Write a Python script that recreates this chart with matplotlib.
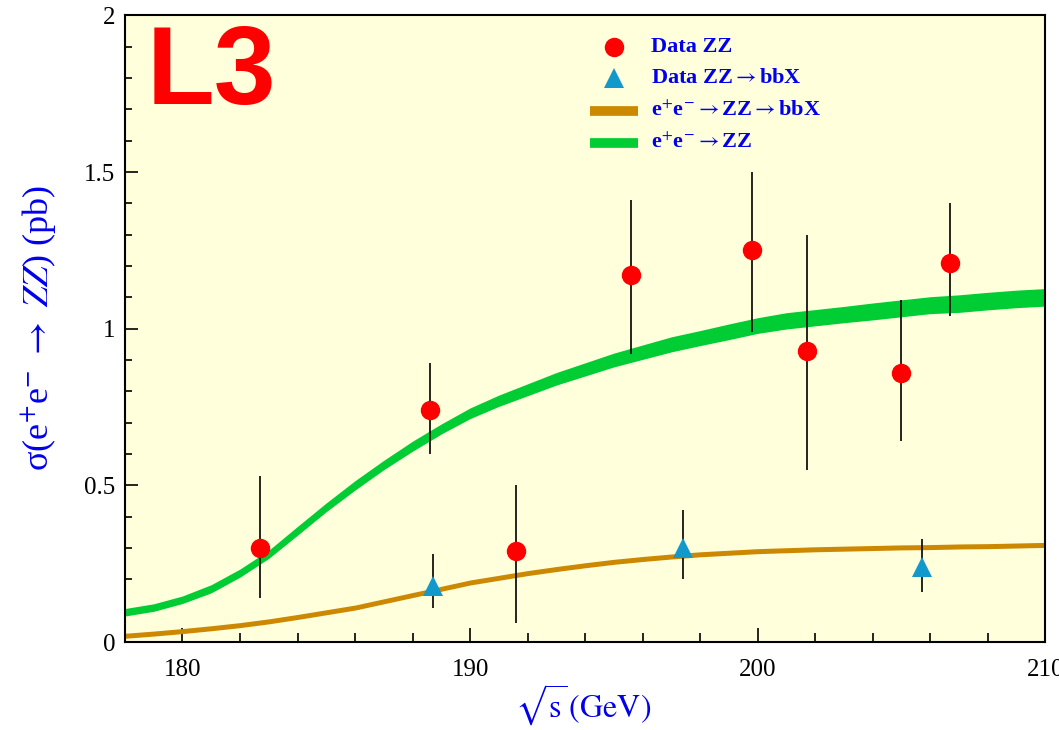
# ZZ cross section vs centre-of-mass energy, L3 style plot
import numpy as np
import matplotlib.pyplot as plt
from matplotlib.ticker import MultipleLocator

# measured sigma(ee->ZZ)
zz_x = [182.7, 188.6, 191.6, 195.6, 199.8, 201.7, 205.0, 206.7]
zz_y = [0.30, 0.74, 0.29, 1.17, 1.25, 0.93, 0.86, 1.21]
zz_up = [0.53, 0.89, 0.50, 1.41, 1.50, 1.30, 1.09, 1.40]
zz_dn = [0.14, 0.60, 0.06, 0.92, 0.99, 0.55, 0.64, 1.04]

# measured sigma(ZZ->bbX)
bb_x = [188.7, 197.4, 205.7]
bb_y = [0.18, 0.30, 0.24]
bb_up = [0.28, 0.42, 0.33]
bb_dn = [0.11, 0.20, 0.16]

# standard model predictions, one value per GeV from 178 to 210
sm_x = list(range(178, 211))
zz_pred = [0.095, 0.11, 0.135, 0.17, 0.22, 0.28, 0.355, 0.43, 0.50, 0.565, 0.625,
           0.68, 0.73, 0.77, 0.805, 0.84, 0.87, 0.90, 0.925, 0.95, 0.97, 0.99,
           1.01, 1.025, 1.035, 1.045, 1.055, 1.065, 1.075, 1.08, 1.088, 1.095, 1.10]
zz_err = [0.012, 0.012, 0.012, 0.013, 0.013, 0.013, 0.014, 0.014, 0.015, 0.015, 0.016,
          0.016, 0.017, 0.018, 0.019, 0.020, 0.021, 0.022, 0.023, 0.024, 0.024, 0.025,
          0.025, 0.026, 0.026, 0.026, 0.027, 0.027, 0.027, 0.028, 0.028, 0.028, 0.028]
bb_pred = [0.02, 0.027, 0.035, 0.044, 0.054, 0.066, 0.08, 0.095, 0.11, 0.13, 0.15,
           0.17, 0.19, 0.205, 0.22, 0.233, 0.245, 0.256, 0.265, 0.273, 0.28, 0.285,
           0.29, 0.293, 0.296, 0.298, 0.30, 0.302, 0.303, 0.305, 0.306, 0.308, 0.31]
bb_err = 0.008

bg = '#ffffdc'
green = '#00cc33'
orange = '#cc8800'
red = '#ff0000'
cyan = '#1199cc'
blue = '#0000ee'

plt.rcParams['mathtext.fontset'] = 'stix'
serif = 'Liberation Serif'

fig = plt.figure(figsize=(10.59, 7.30), dpi=100)
ax = fig.add_axes([0.118, 0.1205, 0.869, 0.8585])
ax.set_facecolor(bg)

sm_x = np.array(sm_x)
zz_pred = np.array(zz_pred)
zz_err = np.array(zz_err)
bb_pred = np.array(bb_pred)
ax.fill_between(sm_x, zz_pred - zz_err, zz_pred + zz_err, color=green, lw=0, zorder=2)
ax.fill_between(sm_x, bb_pred - bb_err, bb_pred + bb_err, color=orange, lw=0, zorder=2)

ax.vlines(zz_x, zz_dn, zz_up, color='black', lw=1.2, zorder=3)
ax.vlines(bb_x, bb_dn, bb_up, color='black', lw=1.2, zorder=3)
ax.plot(zz_x, zz_y, 'o', color=red, ms=14, mew=0, zorder=4)
ax.plot(bb_x, bb_y, '^', color=cyan, ms=14, mew=0, zorder=4)

ax.set_xlim(178, 210)
ax.set_ylim(0, 2)
ax.xaxis.set_major_locator(MultipleLocator(10))
ax.xaxis.set_minor_locator(MultipleLocator(2))
ax.yaxis.set_major_locator(MultipleLocator(0.5))
ax.yaxis.set_minor_locator(MultipleLocator(0.1))
ax.yaxis.set_major_formatter(plt.FuncFormatter(lambda v, p: '%g' % v))
ax.tick_params(axis='x', which='major', direction='in', length=10, width=1.2, pad=12)
ax.tick_params(axis='x', which='minor', direction='in', length=6.5, width=1.2)
ax.tick_params(axis='y', which='major', direction='in', length=9.5, width=1.2, pad=7)
ax.tick_params(axis='y', which='minor', direction='in', length=5, width=1.2)
for lab in ax.get_xticklabels() + ax.get_yticklabels():
    lab.set_fontfamily(serif)
    lab.set_fontsize(18)
for s in ax.spines.values():
    s.set_linewidth(1.5)

fig.text(0.5505, 0.003, r'$\sqrt{\mathrm{s}}\,(\mathrm{GeV})$', color=blue, fontsize=23,
         ha='center', va='bottom')
fig.text(0.037, 0.551, r'σ(e$^{+}$e$^{-}$ $\rightarrow$ $ZZ$) (pb)', color=blue,
         fontsize=26, family=serif, rotation=90, ha='center', va='center')

ax.text(0.023, 0.988, 'L3', transform=ax.transAxes, color=red, fontsize=80,
        fontweight='bold', family='Liberation Sans', va='top', ha='left')

# legend drawn by hand
tr = ax.transAxes
ax.plot([0.531], [0.949], 'o', color=red, ms=14, mew=0, transform=tr, clip_on=False)
ax.plot([0.531], [0.900], '^', color=cyan, ms=14, mew=0, transform=tr, clip_on=False)
ax.plot([0.505, 0.557], [0.848, 0.848], color=orange, lw=7, solid_capstyle='butt', transform=tr)
ax.plot([0.505, 0.557], [0.797, 0.797], color=green, lw=7, solid_capstyle='butt', transform=tr)
leg_labels = ['Data ZZ', r'Data ZZ$\rightarrow$bbX',
              r'e$^{+}$e$^{-}$$\rightarrow$ZZ$\rightarrow$bbX', r'e$^{+}$e$^{-}$$\rightarrow$ZZ']
for yy, t in zip([0.949, 0.900, 0.848, 0.797], leg_labels):
    ax.text(0.572, yy, t, transform=tr, color=blue, fontsize=16, family=serif,
            fontweight='bold', va='center', ha='left')

fig.savefig('out.png', dpi=100)
